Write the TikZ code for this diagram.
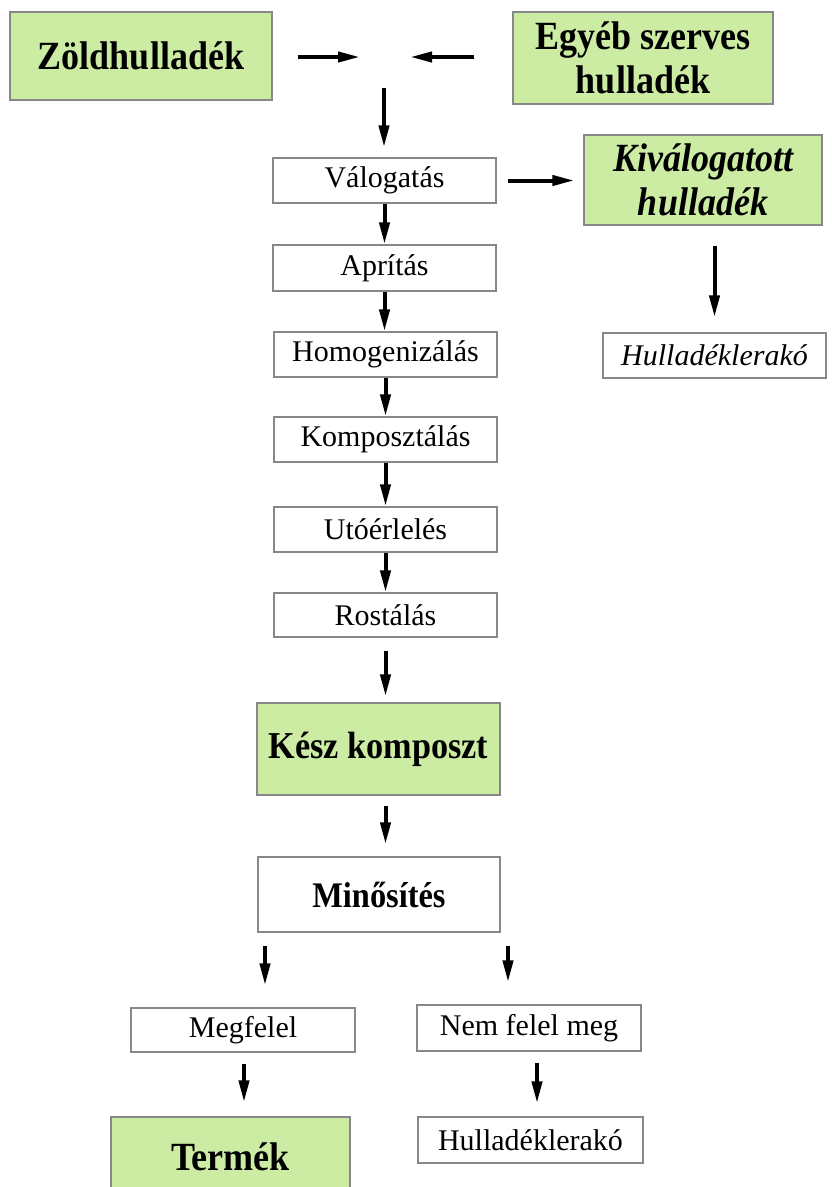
\documentclass[tikz,border=0pt]{standalone}
\usepackage{fontspec}
\setmainfont{Liberation Serif}
\newfontfamily\condserif[FakeStretch=0.9]{Liberation Serif}
\usetikzlibrary{arrows.meta}
\definecolor{boxgreen}{RGB}{204,236,164}
\definecolor{boxline}{RGB}{135,135,135}
\tikzset{
  basebox/.style={draw=boxline, line width=1.3pt, inner sep=0pt, align=center},
  greenbox/.style={basebox, fill=boxgreen, font=\condserif\bfseries\fontsize{40}{44}\selectfont},
  plainbox/.style={basebox, fill=white, font=\fontsize{30}{32}\selectfont},
  arr/.style={line width=4pt, -{Triangle[length=22pt,width=10pt]}},
}
\begin{document}
\begin{tikzpicture}[x=1pt,y=-1pt]
\useasboundingbox[fill=white] (0,0) rectangle (832,1187);
\begin{scope}
\clip (0,0) rectangle (832,1187);
\node[greenbox, minimum width=262pt, minimum height=88pt] (zold) at (141,56) {Zöldhulladék};
\node[greenbox, minimum width=260pt, minimum height=92pt] (egyeb) at (643,58) {Egyéb szerves\\[0pt]hulladék};
\coordinate (m) at (384,57);
\node[plainbox, minimum width=223pt, minimum height=45pt] (val) at (384.5,180.5) {Válogatás};
\node[greenbox, font=\condserif\bfseries\itshape\fontsize{40}{44}\selectfont, minimum width=238pt, minimum height=90pt] (kiv) at (703,180) {Kiválogatott\\[0pt]hulladék};
\node[plainbox, font=\itshape\fontsize{30}{32}\selectfont, minimum width=223pt, minimum height=45pt] (hull1) at (714.5,355.5) {Hulladéklerakó};
\node[plainbox, minimum width=223pt, minimum height=46pt] (apr) at (384.5,268) {Aprítás};
\node[plainbox, minimum width=223pt, minimum height=45pt] (hom) at (385.5,354.5) {Homogenizálás};
\node[plainbox, minimum width=223pt, minimum height=45pt] (komp) at (385.5,439.5) {Komposztálás};
\node[plainbox, minimum width=223pt, minimum height=45pt] (uto) at (385.5,529.5) {Utóérlelés};
\node[plainbox, minimum width=223pt, minimum height=44pt] (rost) at (385.5,615) {Rostálás};
\node[greenbox, font=\condserif\bfseries\fontsize{38}{40}\selectfont, minimum width=243pt, minimum height=92pt] (kesz) at (378.5,749) {Kész komposzt};
\node[plainbox, font=\condserif\bfseries\fontsize{36}{38}\selectfont, minimum width=242pt, minimum height=75pt] (min) at (379,894.5) {Minősítés};
\node[plainbox, minimum width=224pt, minimum height=44pt] (meg) at (243,1030) {Megfelel};
\node[plainbox, minimum width=224pt, minimum height=46pt] (nem) at (529,1028) {Nem felel meg};
\node[greenbox, minimum width=239pt, minimum height=80pt] (ter) at (230.5,1157) {Termék};
\node[plainbox, minimum width=225pt, minimum height=46pt] (hull2) at (530.5,1140) {Hulladéklerakó};

\draw[arr, shorten <=25pt, shorten >=24pt] (zold.east |- m) -- (m);
\draw[arr, shorten <=38pt, shorten >=26pt] (egyeb.west |- m) -- (m);
\draw[arr, shorten <=31pt, shorten >=10pt] (m) -- (m |- val.north);
\draw[arr, shorten <=11pt, shorten >=9pt] (val.east) -- (val.east -| kiv.west);
\draw[arr, shorten <=20pt, shorten >=15pt] (kiv.south -| hull1.north) -- (hull1.north);
\draw[arr] (val.south) -- (apr.north);
\draw[arr] (apr.south) -- (apr.south |- hom.north);
\draw[arr] (hom.south) -- (komp.north);
\draw[arr] (komp.south) -- (uto.north);
\draw[arr] (uto.south) -- (rost.north);
\draw[arr, shorten <=13pt, shorten >=6pt] (rost.south) -- (rost.south |- kesz.north);
\draw[arr, shorten <=10pt, shorten >=12pt] (kesz.south -| rost.south) -- (rost.south |- min.north);
\draw[arr] ([xshift=-114pt,yshift=-13pt]min.south) -- ([xshift=22pt,yshift=22pt]meg.north);
\draw[arr] ([xshift=129pt,yshift=-13pt]min.south) -- ([xshift=-21pt,yshift=22pt]nem.north);
\draw[arr] ([xshift=1pt,yshift=-11pt]meg.south) -- ([xshift=13.5pt,yshift=14pt]ter.north);
\draw[arr] ([xshift=8pt,yshift=-11pt]nem.south) -- ([xshift=6.5pt,yshift=13pt]hull2.north);
\end{scope}
\end{tikzpicture}
\end{document}
